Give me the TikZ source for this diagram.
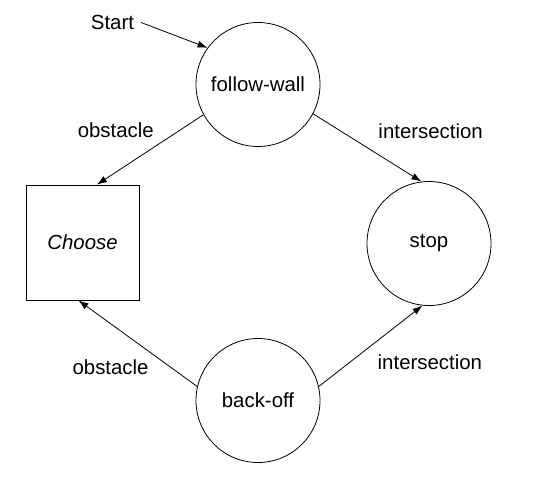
\documentclass[tikz,border=0pt]{standalone}
\usepackage{fontspec}
\setmainfont{Liberation Sans}
\usepackage{tikz}
\usetikzlibrary{automata,positioning}
\usetikzlibrary{arrows.meta}

\begin{document}
\begin{tikzpicture}[x=0.5pt,y=-0.5pt,node distance=2cm,on grid,auto,
    font=\fontsize{10.2}{12}\selectfont,
    every state/.style={draw,thin,minimum size=62pt,inner sep=0pt},
    choicebox/.style={draw,thin,minimum width=56.5pt,minimum height=57.5pt,inner sep=0pt}]
   \useasboundingbox (0,0) rectangle (534,483);
   \node[state] (fw) at (258,84.5) {follow-wall};
   \node[choicebox] (choose) [below left=79pt and 87.75pt of fw] {\itshape Choose};
   \node[state] (stop) [below right=79.5pt and 85.5pt of fw] {stop};
   \node[state] (back) [below=158pt of fw] {back-off};
   \node (start) [above left=31pt and 72.75pt of fw] {Start};
    \path[-{Latex[length=5pt,width=3.5pt]},thin]
    (start.east) edge (fw.144)
    (fw.209.5) edge node[anchor=south east,pos=0.4,yshift=-1pt] {obstacle} (choose.76)
    (fw.332.6) edge node[anchor=south west,pos=0.52,yshift=1.5pt,xshift=1pt] {intersection} (stop.97.7)
    (back.167.4) edge node[anchor=north east,pos=0.35,yshift=2pt] {obstacle} (choose.266.5)
    (back.13.3) edge node[anchor=north west,pos=0.5,yshift=-1pt] {intersection} (stop.264);
\end{tikzpicture}
\end{document}
